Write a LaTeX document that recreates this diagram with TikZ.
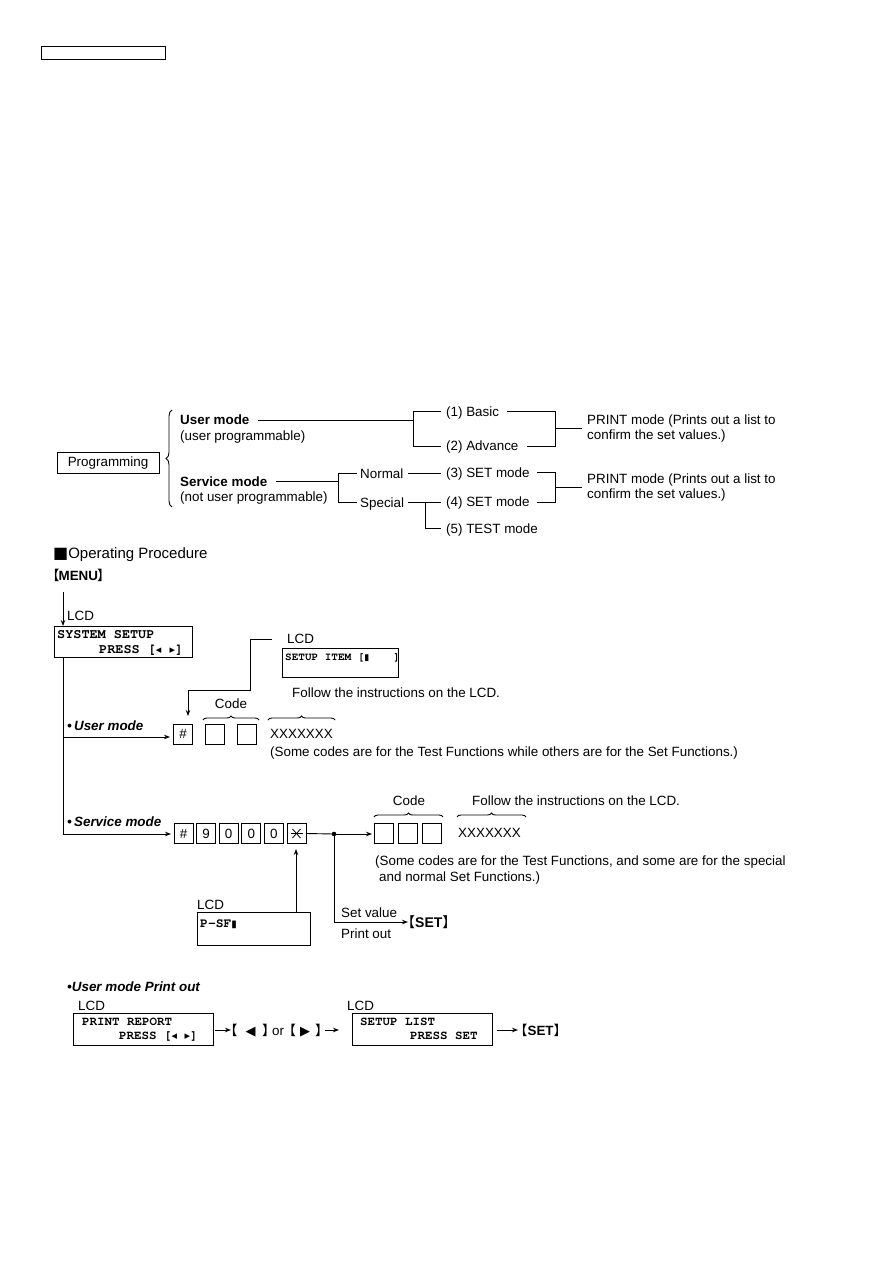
\documentclass[tikz,border=0pt]{standalone}
\usepackage[T1,TU]{fontenc}
\usepackage{fontspec}
\setmainfont{Liberation Sans}
\newfontfamily\sym{DejaVu Sans}
\newfontfamily\cjk{Noto Sans CJK SC}
\usetikzlibrary{arrows.meta,decorations.pathreplacing}
\newcommand\fs{\fontsize{13.4}{16}\selectfont}
\newcommand\lcdf[1]{\fontencoding{T1}\fontfamily{pcr}\fontseries{b}\fontshape{n}\fontsize{#1}{#1}\selectfont}
\newcommand\tl{{\sym\fontsize{11}{11}\selectfont ◂}}
\newcommand\tr{{\sym\fontsize{11}{11}\selectfont ▸}}
\tikzset{
 txt/.style={inner sep=0pt, anchor=base west, font=\fs},
 lcd/.style={inner sep=0pt, anchor=base west, font=\lcdf{#1}},
 bx/.style={draw, line width=1pt, inner sep=0pt, anchor=north west},
 ln/.style={line width=0.9pt},
 arr/.style={line width=0.9pt, -{Stealth[length=6pt,width=4.5pt]}},
 keybox/.style={draw, line width=1pt, minimum width=19pt, minimum height=20pt, inner sep=0pt, font=\fs},
 brc/.style={line width=0.9pt, decorate, decoration={brace, amplitude=#1}},
}
\begin{document}
\begin{tikzpicture}[x=1pt,y=-1pt]
\useasboundingbox (0,0) rectangle (893,1263);
% header box
\node[bx, minimum width=124pt, minimum height=13pt] (hdr) at (41,46) {};

% ---------- mode tree ----------
\node[draw, line width=1pt, minimum width=102pt, minimum height=21pt, inner sep=0pt, font=\fs] (prog) at (108,463) {Programming};
\draw[brc=6pt] (172,507) -- (172,410);
\node[txt] (um) at (180,424) {\textbf{User mode}};
\node[txt] (up) at (180,440) {(user programmable)};
\node[txt] (sm) at (180,486) {\textbf{Service mode}};
\node[txt] (sp) at (180,501) {(not user programmable)};
\node[txt] (nor) at (360,478) {Normal};
\node[txt] (spe) at (360,507) {Special};
\node[txt] (b1) at (446,416) {(1) Basic};
\node[txt] (b2) at (446,450) {(2) Advance};
\node[txt] (b3) at (446,477) {(3) SET mode};
\node[txt] (b4) at (446,506) {(4) SET mode};
\node[txt] (b5) at (446,533) {(5) TEST mode};
\node[txt] (p1a) at (587,424) {PRINT mode (Prints out a list to};
\node[txt] (p1b) at (587,439) {confirm the set values.)};
\node[txt] (p2a) at (587,483) {PRINT mode (Prints out a list to};
\node[txt] (p2b) at (587,498) {confirm the set values.)};
\draw[ln] (258,420) -- (413,420);
\draw[ln] (441,411) -- (413,411) -- (413,446) -- (441,446);
\draw[ln] (507,411) -- (555,411) -- (555,446) -- (527,446);
\draw[ln] (555,428) -- (582,428);
\draw[ln] (276,481) -- (338,481);
\draw[ln] (357,473) -- (338,473) -- (338,502) -- (357,502);
\draw[ln] (408,473) -- (441,473);
\draw[ln] (408,502) -- (441,502);
\draw[ln] (425,502) -- (425,528) -- (441,528);
\draw[ln] (537,472) -- (555,472) -- (555,502) -- (537,502);
\draw[ln] (555,487) -- (582,487);

% ---------- operating procedure ----------
\node[txt, font=\fontsize{15}{18}\selectfont] (op) at (53,558) {{\sym\fontsize{16}{16}\selectfont ■}Operating Procedure};
\node[txt] (menu) at (46,580) {{\cjk 【}\hspace{-1pt}\textbf{MENU}\hspace{-1pt}{\cjk 】}};
\draw[arr] (63,592) -- (63,626);
\node[txt] (lcd1) at (67,620) {LCD};
\node[bx, minimum width=138pt, minimum height=31pt] (sys) at (54,626) {};
\node[lcd=13.5] (sys1) at (57,638) {SYSTEM SETUP};
\node[lcd=13.5] (sys2) at (99,653) {PRESS [\tl\ \tr]};
\draw[ln] (63,657) -- (63,834);

% user mode
\node[txt, font=\fs\bfseries\itshape] (uml) at (67,730) {•\,User mode};
\draw[arr] (63,737) -- (170,737);
\node[keybox] (uh) at (183,734) {\#};
\node[keybox] (uc1) at (215,734) {};
\node[keybox] (uc2) at (246.5,734) {};
\draw[brc=4pt] (203,720) -- (259,720);
\node[txt, anchor=base] (ucode) at (231,708) {Code};
\draw[brc=4pt] (268,720) -- (335,720);
\node[txt] (ux) at (270,738) {XXXXXXX};
\node[txt] (unote) at (270,756) {(Some codes are for the Test Functions while others are for the Set Functions.)};
\node[txt] (lcd2) at (287,643) {LCD};
\node[bx, minimum width=116pt, minimum height=29pt] (si) at (282,648) {};
\node[lcd=11] (si1) at (285,660) {SETUP ITEM [{\sym\fontsize{9}{9}\selectfont ▮}\hspace{24pt}]};
\node[txt] (ufollow) at (292,697) {Follow the instructions on the LCD.};
\draw[arr] (272,639) -- (250,639) -- (250,690) -- (188,690) -- (188,716);

% service mode
\node[txt, font=\fs\bfseries\itshape] (sml) at (67,826) {•\,Service mode};
\draw[arr] (63,834) -- (171,834);
\node[keybox] (k0) at (183.5,833.5) {\#};
\node[keybox] (k1) at (206.1,833.5) {9};
\node[keybox] (k2) at (228.7,833.5) {0};
\node[keybox] (k3) at (251.3,833.5) {0};
\node[keybox] (k4) at (273.9,833.5) {0};
\node[keybox] (k5) at (296.5,833.5) {};
\draw[line width=0.8pt] ([shift={(-4,-4.5)}]k5.center) -- ([shift={(4,4.5)}]k5.center);
\draw[line width=0.8pt] ([shift={(-4,4.5)}]k5.center) -- ([shift={(4,-4.5)}]k5.center);
\draw[line width=0.8pt] ([shift={(-6,0)}]k5.center) -- ([shift={(6,0)}]k5.center);
\coordinate (dot) at (334,834);
\draw[ln] (k5.east) -- (dot);
\fill (dot) circle (2.3pt);
\draw[arr] (dot) -- (372,834);
\node[keybox] (c1) at (383.5,833.5) {};
\node[keybox] (c2) at (407.5,833.5) {};
\node[keybox] (c3) at (431.5,833.5) {};
\draw[brc=4pt] (374,817) -- (443,817);
\node[txt, anchor=base] (scode) at (409,805) {Code};
\draw[brc=4pt] (457,817) -- (526,817);
\node[txt] (sfollow) at (472,805) {Follow the instructions on the LCD.};
\node[txt] (sx) at (458,837) {XXXXXXX};
\node[txt] (sn1) at (375,865) {(Some codes are for the Test Functions, and some are for the special};
\node[txt] (sn2) at (379,881) {and normal Set Functions.)};
\coordinate (setc) at (334,922);
\draw[ln] (dot) -- (setc);
\draw[arr] (setc) -- (408,922);
\node[txt] (setv) at (341,917) {Set value};
\node[txt] (pout) at (341,938) {Print out};
\node[txt, font=\fontsize{14}{16}\selectfont] (set1) at (401,927) {{\cjk 【}\textbf{SET}{\cjk 】}};
\node[txt] (lcd3) at (197,909) {LCD};
\node[bx, minimum width=113pt, minimum height=33pt] (psf) at (197,912) {};
\node[lcd=13] (psf1) at (200,927) {P-SF{\sym\fontsize{10}{10}\selectfont ▮}};
\draw[arr] (296,912) -- (296,849);

% user mode print out
\node[txt, font=\fs\bfseries\itshape] (upo) at (67,991) {•User mode Print out};
\node[txt] (lcd4) at (78,1010) {LCD};
\node[bx, minimum width=140pt, minimum height=32pt] (pr) at (73,1013) {};
\node[lcd=12.5] (pr1) at (82,1025) {PRINT REPORT};
\node[lcd=12.5] (pr2) at (119,1039) {PRESS [\tl\ \tr]};
\draw[arr] (215,1030) -- (231,1030);
\node[txt] (lr) at (224,1035) {{\cjk 【}\hspace{8pt}{\sym\fontsize{13}{13}\selectfont ◀}\hspace{6.6pt}{\cjk 】}\hspace{-3.4pt}or\hspace{-1.5pt}{\cjk 【}\hspace{4.2pt}{\sym\fontsize{13}{13}\selectfont ▶}\hspace{5pt}{\cjk 】}};
\draw[arr] (325,1030) -- (339,1030);
\node[txt] (lcd5) at (347,1010) {LCD};
\node[bx, minimum width=140pt, minimum height=32pt] (sl) at (352,1013) {};
\node[lcd=12.5] (sl1) at (360,1025) {SETUP LIST};
\node[lcd=12.5] (sl2) at (410,1039) {PRESS SET};
\draw[arr] (497,1030) -- (518,1030);
\node[txt] (set2) at (514,1035) {{\cjk 【}\textbf{SET}{\cjk 】}};
\end{tikzpicture}
\end{document}
